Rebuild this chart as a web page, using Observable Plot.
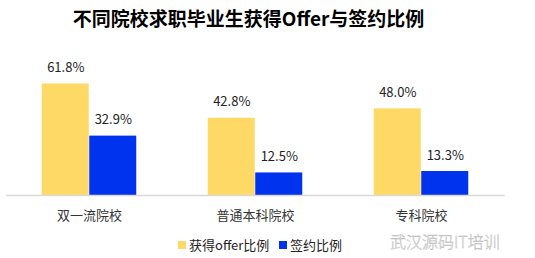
<!DOCTYPE html>
<html>
<head>
<meta charset="utf-8">
<script src="https://cdn.jsdelivr.net/npm/d3@7"></script>
<script src="https://cdn.jsdelivr.net/npm/@observablehq/plot@0.6"></script>
<style>
  html, body { margin: 0; padding: 0; background: #fff; }
  body { width: 535px; height: 258px; position: relative; overflow: hidden; font-family: "Noto Sans CJK SC", "Noto Sans", sans-serif; }
  #title { position: absolute; left: 0; top: 0; width: 497px; height: 36px; line-height: 36px; text-align: center; font-size: 19px; font-weight: bold; color: #000; }
  #chart { position: absolute; left: 0; top: 36px; }
  #legend { position: absolute; left: 0; top: 236px; width: 535px; height: 18px; font-size: 13px; color: #222; }
  .item { position: absolute; top: 0; height: 18px; line-height: 18px; white-space: nowrap; }
  .sw { display: inline-block; width: 8px; height: 8px; vertical-align: middle; margin-right: 3px; position: relative; top: -1px; }
  #wm { position: absolute; left: 390px; top: 229px; font-size: 16px; font-weight: 300; color: #fff; -webkit-text-stroke: 0.45px #b8b8b8; white-space: nowrap; }
</style>
</head>
<body>
<div id="title">不同院校求职毕业生获得Offer与签约比例</div>
<div id="chart"></div>
<div id="legend"></div>
<div id="wm">武汉源码IT培训</div>
<script>
const categories = ["双一流院校", "普通本科院校", "专科院校"];
const seriesNames = ["获得offer比例", "签约比例"];
const offerValues = [61.8, 42.8, 48.0];
const signValues = [32.9, 12.5, 13.3];
const colors = ["#FFD966", "#0033EE"];

const offerData = categories.map((c, i) => ({category: c, value: offerValues[i]}));
const signData = categories.map((c, i) => ({category: c, value: signValues[i]}));

const step = (535 - 5.25 - 30.25) / categories.length;
const half = step / 2;
const barW = 47.5;

const chart = Plot.plot({
  width: 535,
  height: 196,
  marginLeft: 5.25,
  marginRight: 30.25,
  marginTop: 32.65,
  marginBottom: 37,
  style: {fontFamily: '"Noto Sans CJK SC", "Noto Sans", sans-serif', background: "transparent"},
  x: {domain: categories, padding: 0, label: null},
  y: {domain: [0, 70], axis: null},
  marks: [
    Plot.barY(offerData, {x: "category", y: "value", fill: colors[0], insetLeft: half - barW, insetRight: half}),
    Plot.barY(signData, {x: "category", y: "value", fill: colors[1], insetLeft: half, insetRight: half - barW}),
    Plot.ruleY([0], {stroke: "#D9D9D9", strokeWidth: 1.5, insetLeft: 1, insetRight: 0}),
    Plot.text(offerData, {x: "category", y: "value", text: d => d.value.toFixed(1) + "%", dx: -barW / 2, dy: -16, lineAnchor: "middle", fontSize: 13, fill: "#222"}),
    Plot.text(signData, {x: "category", y: "value", text: d => d.value.toFixed(1) + "%", dx: barW / 2, dy: -16, lineAnchor: "middle", fontSize: 13, fill: "#222"}),
    Plot.axisX({tickSize: 0, tickPadding: 15, fontSize: 13, fill: "#333", label: null})
  ]
});
document.getElementById("chart").appendChild(chart);

const legend = document.getElementById("legend");
const lefts = [178, 279];
seriesNames.forEach((name, i) => {
  const item = document.createElement("div");
  item.className = "item";
  item.style.left = lefts[i] + "px";
  const sw = document.createElement("span");
  sw.className = "sw";
  sw.style.background = colors[i];
  item.appendChild(sw);
  item.appendChild(document.createTextNode(name));
  legend.appendChild(item);
});
</script>
</body>
</html>
